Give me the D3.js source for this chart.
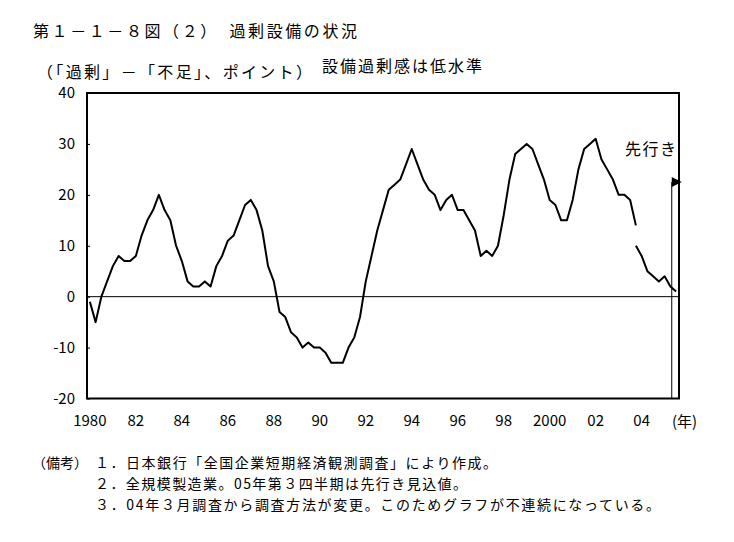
<!DOCTYPE html>
<html><head><meta charset="utf-8">
<script src="https://cdn.jsdelivr.net/npm/d3@7"></script>
<style>
body{margin:0;background:#fff}
text{font-family:"Noto Sans CJK JP","Noto Sans",sans-serif;fill:#000}
</style>
</head><body>
<svg id="c" width="734" height="542"></svg>
<script>
// quarterly categories 1980Q1 .. 2005Q3
const quarters = [];
for (let y = 1980; y <= 2005; y++) for (let q = 1; q <= 4; q++) if (!(y === 2005 && q > 3)) quarters.push(y + "Q" + q);

// old survey basis (1980Q1 .. 2003Q4)
const oldValues = [
  -1, -5, 0, 3,     6, 8, 7, 7,      8, 12, 15, 17,    20, 17, 15, 10,
   7, 3, 2, 2,      3, 2, 6, 8,      11, 12, 15, 18,   19, 17, 13, 6,
   3, -3, -4, -7,   -8, -10, -9, -10, -10, -11, -13, -13, -13, -10, -8, -4,
   3, 8, 13, 17,    21, 22, 23, 26,  29, 26, 23, 21,   20, 17, 19, 20,
  17, 17, 15, 13,   8, 9, 8, 10,     16, 23, 28, 29,   30, 29, 26, 23,
  19, 18, 15, 15,   19, 25, 29, 30,  31, 27, 25, 23,   20, 20, 19, 14
];
// new survey basis (2003Q4 .. 2005Q3, last = forecast)
const newStartQuarter = "2003Q4";
const newValues = [10, 8, 5, 4, 3, 4, 2, 1];

const xTickQuarters = ["1980Q1","1982Q1","1984Q1","1986Q1","1988Q1","1990Q1","1992Q1","1994Q1","1996Q1","1998Q1","2000Q1","2002Q1","2004Q1"];
const xTickLabels = ["1980","82","84","86","88","90","92","94","96","98","2000","02","04"];
const yTicks = [-20, -10, 0, 10, 20, 30, 40];
const forecastQuarter = "2005Q3";

const titleText = "第１－１－８図（２）　過剰設備の状況";
const yAxisTitle = "（「過剰」－「不足」、ポイント）";
const subTitle = "設備過剰感は低水準";
const forecastLabel = "先行き";
const unitLabel = "(年)";
const noteHead = "（備考）";
const notes = [
  "１．日本銀行「全国企業短期経済観測調査」により作成。",
  "２．全規模製造業。05年第３四半期は先行き見込値。",
  "３．04年３月調査から調査方法が変更。このためグラフが不連続になっている。"
];

const svg = d3.select("#c");
const L = 87, R = 679, T = 93, B = 398.5;
const x = d3.scaleBand().domain(quarters).range([L, R]).padding(0);
const y = d3.scaleLinear().domain([-20, 40]).range([B, T]);
const cx = q => x(q) + x.bandwidth() / 2;

// y axis (inward ticks)
const ya = svg.append("g").attr("transform", `translate(${L},0)`)
  .call(d3.axisLeft(y).tickValues(yTicks).tickFormat(d => String(d)).tickSize(-3).tickPadding(12));
ya.select(".domain").remove();
ya.selectAll("line").attr("stroke", "#000");
ya.selectAll("text").attr("font-size", 15).attr("font-family", '"Noto Sans CJK JP"');

// x axis labels
const fmt = d3.scaleOrdinal().domain(xTickQuarters).range(xTickLabels);
const xa = svg.append("g").attr("transform", `translate(0,${B})`)
  .call(d3.axisBottom(x).tickValues(xTickQuarters).tickFormat(fmt).tickSize(0).tickPadding(17));
xa.select(".domain").remove();
xa.selectAll("text").attr("font-size", 15).attr("font-family", '"Noto Sans CJK JP"');

svg.append("text").attr("x", 672).attr("y", B + 28).attr("font-size", 15).text(unitLabel);

// zero line
svg.append("line").attr("x1", L).attr("x2", R).attr("y1", y(0)).attr("y2", y(0))
  .attr("stroke", "#000").attr("stroke-width", 1);

// lines
const line = d3.line().x(d => cx(d.q)).y(d => y(d.v));
const oldData = oldValues.map((v, i) => ({q: quarters[i], v}));
const s = quarters.indexOf(newStartQuarter);
const newData = newValues.map((v, i) => ({q: quarters[s + i], v}));
[oldData, newData].forEach(d => svg.append("path").datum(d).attr("d", line)
  .attr("fill", "none").attr("stroke", "#000").attr("stroke-width", 2).attr("stroke-linejoin", "round"));

// forecast marker
const fx = x(forecastQuarter) - 1.5, fy = y(22.5);
svg.append("line").attr("x1", fx).attr("x2", fx).attr("y1", B).attr("y2", fy).attr("stroke", "#000").attr("stroke-width", 1);
svg.append("path").attr("d", `M${fx},${fy - 5}L${fx + 10},${fy}L${fx},${fy + 5}Z`).attr("fill", "#000");
svg.append("text").attr("x", 625).attr("y", 155).attr("font-size", 16).attr("textLength", 51).attr("lengthAdjust", "spacing").text(forecastLabel);

// frame
svg.append("rect").attr("x", L).attr("y", T).attr("width", R - L).attr("height", B - T)
  .attr("fill", "none").attr("stroke", "#000").attr("stroke-width", 2);

// titles
svg.append("text").attr("x", 33).attr("y", 37).attr("font-size", 16).attr("textLength", 324).attr("lengthAdjust", "spacing").text(titleText);
svg.append("text").attr("x", 37).attr("y", 78).attr("font-size", 16).attr("textLength", 275).attr("lengthAdjust", "spacing").text(yAxisTitle);
svg.append("text").attr("x", 322).attr("y", 72).attr("font-size", 16).attr("textLength", 160).attr("lengthAdjust", "spacing").text(subTitle);

// notes
const nb = [468, 489, 510];
const nLen = [402, 372, 565];
svg.append("text").attr("x", 32).attr("y", nb[0]).attr("font-size", 14).attr("textLength", 56).attr("lengthAdjust", "spacing").text(noteHead);
notes.forEach((n, i) => {
  svg.append("text").attr("x", 95).attr("y", nb[i]).attr("font-size", 14)
    .attr("textLength", nLen[i]).attr("lengthAdjust", "spacing").text(n);
});
</script>
</body></html>
